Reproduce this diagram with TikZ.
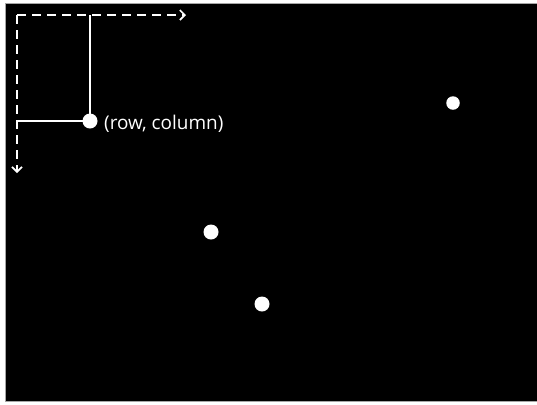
\documentclass[tikz,border=0pt]{standalone}
\usepackage{fontspec}
\setmainfont{Open Sans}
\usetikzlibrary{arrows.meta}
\begin{document}
\begin{tikzpicture}[x={(1bp,0)},y={(0,-1bp)},
  dot/.style={circle,fill=white,inner sep=0pt,minimum size=15bp},
  axisline/.style={draw=white,line width=2bp,dash pattern=on 9bp off 6bp,-{Straight Barb[length=5bp,width=10bp,line width=1.6bp]}},
  guide/.style={draw=white,line width=1.3bp},
  lab/.style={text=white,font=\fontsize{19}{22}\selectfont,anchor=west,inner sep=0pt}]
\useasboundingbox (0,0) rectangle (537,404);
\fill[white] (0,0) rectangle (537,404);
\draw[fill=black,draw=gray!70,line width=1bp] (5.5,3.5) rectangle (540,401.5);
\coordinate (o) at (17,15);
\coordinate (xe) at (186,15);
\coordinate (ye) at (17,173);
\coordinate (top) at (90,15);
\coordinate (lft) at (17,121);
\node[dot] (p) at (90,121) {};
\node[dot,minimum size=13.5bp] (a) at (453,103) {};
\node[dot] (b) at (211,232) {};
\node[dot] (c) at (262,304) {};
\node[lab] (t) at (104,124) {(row, column)};
\draw[guide] (top) -- (p.center);
\draw[guide] (lft) -- (p.center);
\draw[axisline] (o) -- (xe);
\draw[axisline] (o) -- (ye);
\end{tikzpicture}
\end{document}
